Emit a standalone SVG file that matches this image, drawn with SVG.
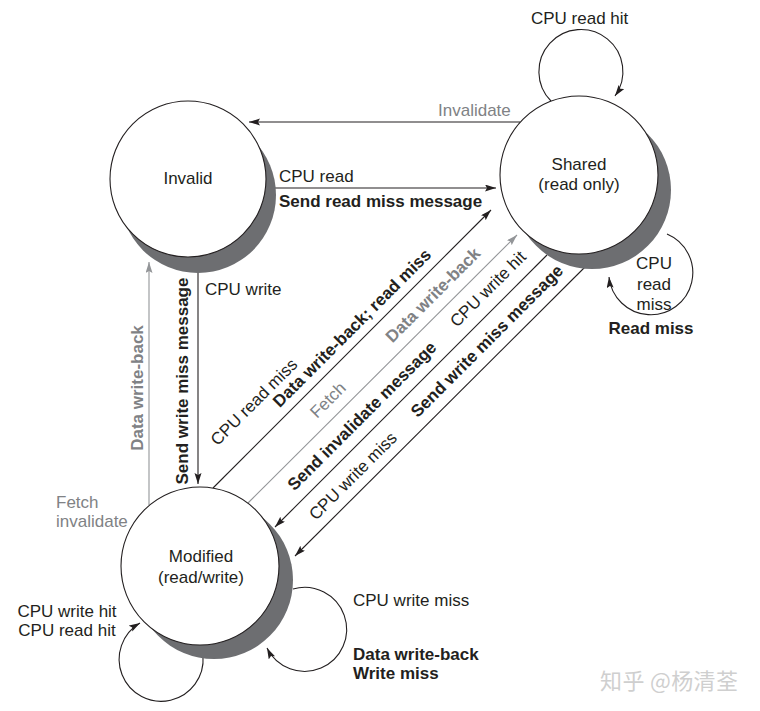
<svg xmlns="http://www.w3.org/2000/svg" width="760" height="711" viewBox="0 0 760 711">
<defs>
<style>
text{font-family:"Liberation Sans",Arial,sans-serif;font-size:17px;fill:#231f20}
.b{font-weight:bold}
.g{fill:#808285}
.m{text-anchor:middle}
.node circle.face{fill:#fff;stroke:#231f20;stroke-width:1.1}
.node circle.shadow{fill:#6d6e71}
.ln{fill:none;stroke:#231f20;stroke-width:1.1}
.lg{fill:none;stroke:#939598;stroke-width:1.1}
.wm{font-family:"Noto Sans CJK SC",sans-serif;font-size:22px;fill:#cfcfcf}
</style>
<marker id="ab" markerUnits="userSpaceOnUse" markerWidth="12" markerHeight="8" refX="11" refY="3.5" orient="auto">
<path d="M0,0 L11,3.5 L0,7 L2,3.5 z" fill="#231f20"/>
</marker>
<marker id="ag" markerUnits="userSpaceOnUse" markerWidth="12" markerHeight="8" refX="11" refY="3.5" orient="auto">
<path d="M0,0 L11,3.5 L0,7 L2,3.5 z" fill="#939598"/>
</marker>
</defs>
<rect width="760" height="711" fill="#fff"/>

<g id="connectors">
<line class="ln" x1="520" y1="122" x2="249" y2="122" marker-end="url(#ab)"/>
<line class="ln" x1="275" y1="188" x2="496" y2="188" marker-end="url(#ab)"/>
<line class="ln" x1="198" y1="273" x2="198" y2="484" marker-end="url(#ab)"/>
<line class="lg" x1="149" y1="505" x2="149" y2="262" marker-end="url(#ag)"/>
<line class="ln" x1="213" y1="488" x2="491" y2="210" marker-end="url(#ab)"/>
<line class="lg" x1="248" y1="503" x2="517" y2="235" marker-end="url(#ag)"/>
<line class="ln" x1="547" y1="255" x2="275" y2="527" marker-end="url(#ab)"/>
<line class="ln" x1="585" y1="267" x2="295" y2="556" marker-end="url(#ab)"/>
<path class="ln" d="M551,101 A42,42 0 1 1 615,96" marker-end="url(#ab)"/>
<path class="ln" d="M667,234 A42,42 0 1 1 609,277" marker-end="url(#ab)"/>
<path class="ln" d="M203,656 A42,42 0 1 1 140,623" marker-end="url(#ab)"/>
<path class="ln" d="M293,589 A42,42 0 1 1 267,648" marker-end="url(#ab)"/>
</g>

<g id="node-invalid" class="node">
<circle class="shadow" cx="198" cy="195" r="78"/>
<circle class="face" cx="188" cy="179" r="78"/>
<text class="m" x="188" y="184">Invalid</text>
</g>

<g id="node-shared" class="node">
<circle class="shadow" cx="592" cy="190" r="79"/>
<circle class="face" cx="579" cy="175" r="79"/>
<text class="m" x="579" y="170">Shared</text>
<text class="m" x="579" y="190">(read only)</text>
</g>

<g id="node-modified" class="node">
<circle class="shadow" cx="214" cy="580" r="79"/>
<circle class="face" cx="200" cy="566" r="79"/>
<text class="m" x="201" y="562">Modified</text>
<text class="m" x="201" y="583">(read/write)</text>
</g>

<g id="labels">
<text x="438" y="116" class="g">Invalidate</text>
<text x="531" y="24">CPU read hit</text>
<text x="279" y="182">CPU read</text>
<text x="279" y="207" class="b">Send read miss message</text>
<text x="205" y="295">CPU write</text>
<text class="b g m" transform="translate(143,388) rotate(-90)">Data write-back</text>
<text class="b m" transform="translate(188,381) rotate(-90)">Send write miss message</text>
<text class="m" transform="translate(258,406) rotate(-45)">CPU read miss</text>
<text class="b m" transform="translate(356,332) rotate(-45)">Data write-back; read miss</text>
<text class="g m" transform="translate(332,404) rotate(-45)">Fetch</text>
<text class="b g m" transform="translate(437,299) rotate(-45)">Data write-back</text>
<text class="m" transform="translate(492,293) rotate(-45)">CPU write hit</text>
<text class="b m" transform="translate(366,420) rotate(-45)">Send invalidate message</text>
<text class="m" transform="translate(357,480) rotate(-45)">CPU write miss</text>
<text class="b m" transform="translate(491,345) rotate(-45)">Send write miss message</text>
<text class="m" x="654" y="269">CPU</text>
<text class="m" x="654" y="290">read</text>
<text class="m" x="654" y="310">miss</text>
<text class="b m" x="651" y="334">Read miss</text>
<text x="353" y="606">CPU write miss</text>
<text x="353" y="660" class="b">Data write-back</text>
<text x="353" y="679" class="b">Write miss</text>
<text class="m" x="67" y="617">CPU write hit</text>
<text class="m" x="67" y="636">CPU read hit</text>
<text x="56" y="508" class="g">Fetch</text>
<text x="56" y="527" class="g">invalidate</text>
<text x="600" y="689" class="wm" textLength="138">知乎 @杨清荃</text>
</g>
</svg>
